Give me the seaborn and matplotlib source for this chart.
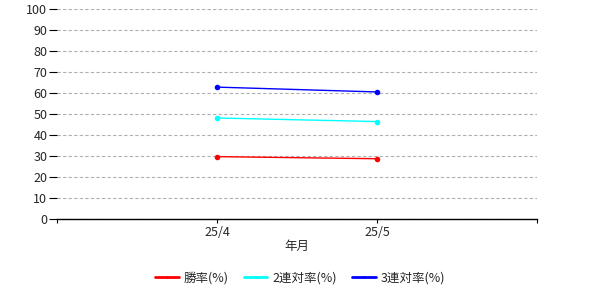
import matplotlib
matplotlib.use("Agg")
import matplotlib.pyplot as plt
import seaborn as sns
import pandas as pd

months = ["25/4", "25/5"]
win_rate = [29.7, 28.7]
top2_rate = [48.1, 46.4]
top3_rate = [62.8, 60.5]
series_names = ["勝率(%)", "2連対率(%)", "3連対率(%)"]
colors = ["#ff0000", "#00ffff", "#0000ff"]

rows = []
for name, vals in zip(series_names, [win_rate, top2_rate, top3_rate]):
    for i, (m, v) in enumerate(zip(months, vals)):
        rows.append({"pos": i, "month": m, "value": v, "series": name})
df = pd.DataFrame(rows)

sns.set_style("white")
plt.rcParams['font.family'] = ['Noto Sans CJK JP', 'DejaVu Sans']

fig = plt.figure(figsize=(6, 3), dpi=100)
ax = fig.add_axes([0.095, 0.27, 0.8, 0.70])

sns.lineplot(data=df, x="pos", y="value", hue="series", palette=colors,
             hue_order=series_names, marker="o", markersize=4,
             markeredgewidth=0, linewidth=1, ax=ax, legend=True)

ax.set_xlim(-1, 2)
ax.set_ylim(0, 100)
ax.set_yticks(range(0, 101, 10))
ax.set_xticks([-1, 0, 1, 2])
ax.set_xticklabels(["", months[0], months[1], ""])
ax.yaxis.grid(True, color="#b0b0b0", linestyle=(0, (3, 2)), linewidth=0.8)
ax.xaxis.grid(False)
for s in ["top", "right", "left"]:
    ax.spines[s].set_visible(False)
ax.spines["bottom"].set_color("black")
ax.spines["bottom"].set_linewidth(1)
ax.tick_params(axis="x", length=3, width=0.8, color="black", labelsize=9, pad=2, bottom=True)
ax.tick_params(axis="y", length=6, width=0.8, color="black", labelsize=9, pad=1, left=True)
ax.set_xlabel("年月", fontsize=9, labelpad=1)
ax.set_ylabel("")

handles, labels = ax.get_legend_handles_labels()
for h in handles:
    h.set_linewidth(2)
    h.set_markersize(2)
leg = ax.legend(handles, labels, loc="lower center",
                bbox_to_anchor=(0.5, 0.015), bbox_transform=fig.transFigure,
                ncol=3, frameon=False, fontsize=9, handlelength=1.9,
                handletextpad=0.4, columnspacing=1.2)

fig.savefig("out.png", dpi=100)
